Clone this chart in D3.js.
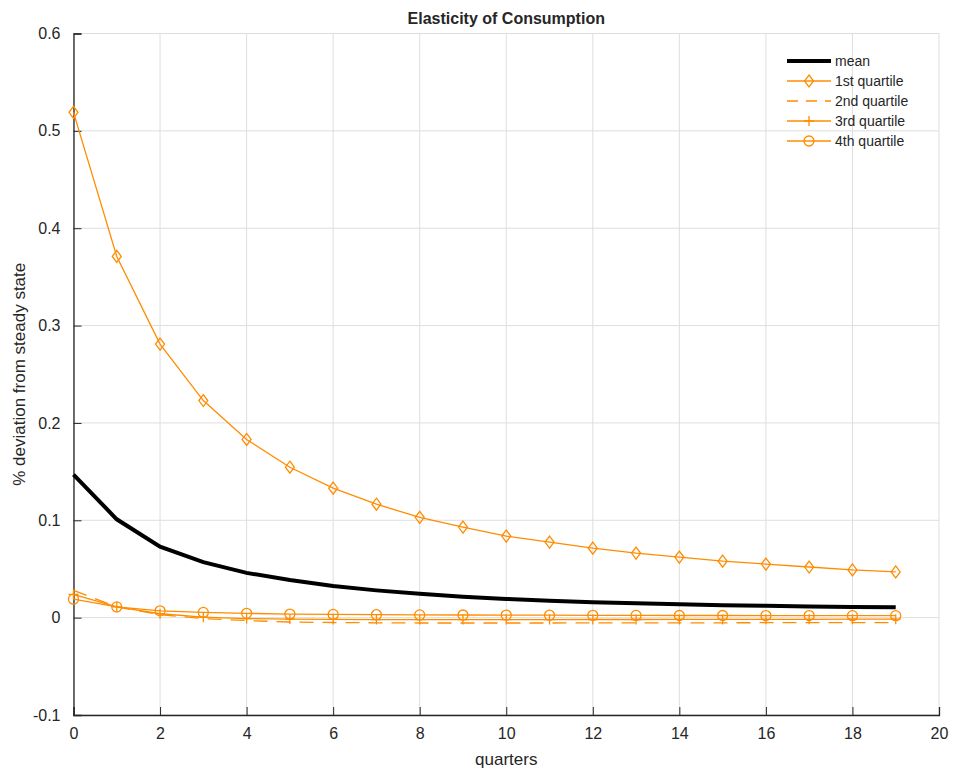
<!DOCTYPE html>
<html>
<head>
<meta charset="utf-8">
<script src="https://cdn.jsdelivr.net/npm/d3@7"></script>
<style>
  body { margin: 0; background: #fff; }
  text { font-family: "Liberation Sans", Arial, sans-serif; fill: #262626; }
</style>
</head>
<body>
<div id="chart"></div>
<script>
// quarters 0..19
var quarters = d3.range(0, 20);

// series
var meanVals = [0.147, 0.101, 0.073, 0.057, 0.046, 0.0386, 0.0324, 0.028, 0.0245, 0.0215,
                0.0192, 0.0174, 0.0159, 0.0147, 0.0137, 0.0128, 0.0121, 0.0115, 0.0110, 0.0106];
var q1Vals = [0.519, 0.371, 0.281, 0.223, 0.183, 0.1545, 0.133, 0.1165, 0.103, 0.093,
              0.0838, 0.0776, 0.0714, 0.0663, 0.0622, 0.058, 0.055, 0.052, 0.049, 0.047];
var q2Vals = [0.028, 0.011, 0.003, -0.001, -0.003, -0.0045, -0.005, -0.0053, -0.0055, -0.0055,
              -0.0055, -0.0055, -0.0054, -0.0054, -0.0053, -0.0053, -0.0052, -0.0052, -0.0051, -0.0051];
var q3Vals = [0.024, 0.011, 0.004, 0.0005, -0.001, -0.0015, -0.0018, -0.002, -0.002, -0.002,
              -0.002, -0.002, -0.0019, -0.0019, -0.0018, -0.0018, -0.0017, -0.0017, -0.0016, -0.0016];
var q4Vals = [0.019, 0.011, 0.007, 0.0054, 0.0044, 0.0037, 0.0033, 0.003, 0.0028, 0.0027,
              0.0026, 0.0025, 0.0024, 0.0023, 0.0022, 0.0022, 0.0021, 0.0021, 0.002, 0.002];

var xTicks = [0, 2, 4, 6, 8, 10, 12, 14, 16, 18, 20];
var yTicks = [-0.1, 0, 0.1, 0.2, 0.3, 0.4, 0.5, 0.6];
var yTickLabels = ["-0.1", "0", "0.1", "0.2", "0.3", "0.4", "0.5", "0.6"];

var series = [
  { name: "mean",         values: meanVals, color: "#000000", width: 4,   dash: null,  marker: "none" },
  { name: "1st quartile", values: q1Vals,   color: "#ff8c00", width: 1.3, dash: null,  marker: "diamond" },
  { name: "2nd quartile", values: q2Vals,   color: "#ff8c00", width: 1.3, dash: "14,9", marker: "none" },
  { name: "3rd quartile", values: q3Vals,   color: "#ff8c00", width: 1.3, dash: null,  marker: "plus" },
  { name: "4th quartile", values: q4Vals,   color: "#ff8c00", width: 1.3, dash: null,  marker: "circle" }
];

var W = 956, H = 773;
var margin = { top: 33.5, right: 17, bottom: 58, left: 73.5 };
var width = W - margin.left - margin.right,
    height = H - margin.top - margin.bottom;

var svg = d3.select("#chart").append("svg")
  .attr("width", W).attr("height", H);

var g = svg.append("g")
  .attr("transform", "translate(" + margin.left + "," + margin.top + ")");

var x = d3.scaleLinear().domain([0, 20]).range([0, width]);
var y = d3.scaleLinear().domain([-0.1, 0.6]).range([height, 0]);

// grid
g.append("g").selectAll("line").data(xTicks).enter().append("line")
  .attr("x1", d => x(d)).attr("x2", d => x(d))
  .attr("y1", 0).attr("y2", height)
  .attr("stroke", "#dedede").attr("stroke-width", 1);
g.append("g").selectAll("line").data(yTicks).enter().append("line")
  .attr("y1", d => y(d)).attr("y2", d => y(d))
  .attr("x1", 0).attr("x2", width)
  .attr("stroke", "#dedede").attr("stroke-width", 1);

// axes (ticks point inward like matlab)
var xAxis = g.append("g")
  .attr("transform", "translate(0," + height + ")")
  .call(d3.axisBottom(x).tickValues(xTicks).tickSize(-8).tickPadding(13).tickFormat(d3.format("d")));
var yAxis = g.append("g")
  .call(d3.axisLeft(y).tickValues(yTicks).tickSize(-8).tickPadding(13)
    .tickFormat((d, i) => yTickLabels[i]));

[xAxis, yAxis].forEach(function(a) {
  a.select(".domain").attr("stroke", "#262626").attr("stroke-width", 1.3);
  a.selectAll(".tick line").attr("stroke", "#262626").attr("stroke-width", 1);
  a.selectAll("text").style("font-size", "16px").attr("fill", "#262626");
});

// lines
var line = d3.line()
  .x((d, i) => x(quarters[i]))
  .y(d => y(d));

series.forEach(function(s) {
  g.append("path")
    .attr("d", line(s.values))
    .attr("fill", "none")
    .attr("stroke", s.color)
    .attr("stroke-width", s.width)
    .attr("stroke-dasharray", s.dash);
});

function drawMarker(sel, type, color) {
  if (type === "diamond") {
    sel.append("path").attr("d", "M0,-6L4.5,0L0,6L-4.5,0Z")
      .attr("fill", "none").attr("stroke", color).attr("stroke-width", 1.3);
  } else if (type === "circle") {
    sel.append("circle").attr("r", 5)
      .attr("fill", "none").attr("stroke", color).attr("stroke-width", 1.3);
  } else if (type === "plus") {
    sel.append("path").attr("d", "M-5,0L5,0M0,-5L0,5")
      .attr("fill", "none").attr("stroke", color).attr("stroke-width", 1.3);
  }
}

series.forEach(function(s) {
  if (s.marker === "none") return;
  s.values.forEach(function(v, i) {
    var m = g.append("g").attr("transform", "translate(" + x(quarters[i]) + "," + y(v) + ")");
    drawMarker(m, s.marker, s.color);
  });
});

// legend
var legend = svg.append("g").attr("transform", "translate(787,61)");
series.forEach(function(s, i) {
  var row = legend.append("g").attr("transform", "translate(0," + (i * 20) + ")");
  row.append("line")
    .attr("x1", 0).attr("x2", 44).attr("y1", 0).attr("y2", 0)
    .attr("stroke", s.color).attr("stroke-width", s.width)
    .attr("stroke-dasharray", s.dash ? "11,8" : null);
  var m = row.append("g").attr("transform", "translate(22,0)");
  drawMarker(m, s.marker, s.color);
  row.append("text").attr("x", 48).attr("y", 5)
    .style("font-size", "14px").text(s.name);
});

// title and labels
svg.append("text")
  .attr("x", margin.left + width / 2).attr("y", 24)
  .attr("text-anchor", "middle")
  .style("font-size", "16px").style("font-weight", "bold")
  .attr("fill", "#000")
  .text("Elasticity of Consumption");

svg.append("text")
  .attr("x", margin.left + width / 2).attr("y", 765)
  .attr("text-anchor", "middle")
  .style("font-size", "17px")
  .text("quarters");

svg.append("text")
  .attr("transform", "translate(25," + (margin.top + height / 2) + ") rotate(-90)")
  .attr("text-anchor", "middle")
  .style("font-size", "17px")
  .text("% deviation from steady state");
</script>
</body>
</html>
